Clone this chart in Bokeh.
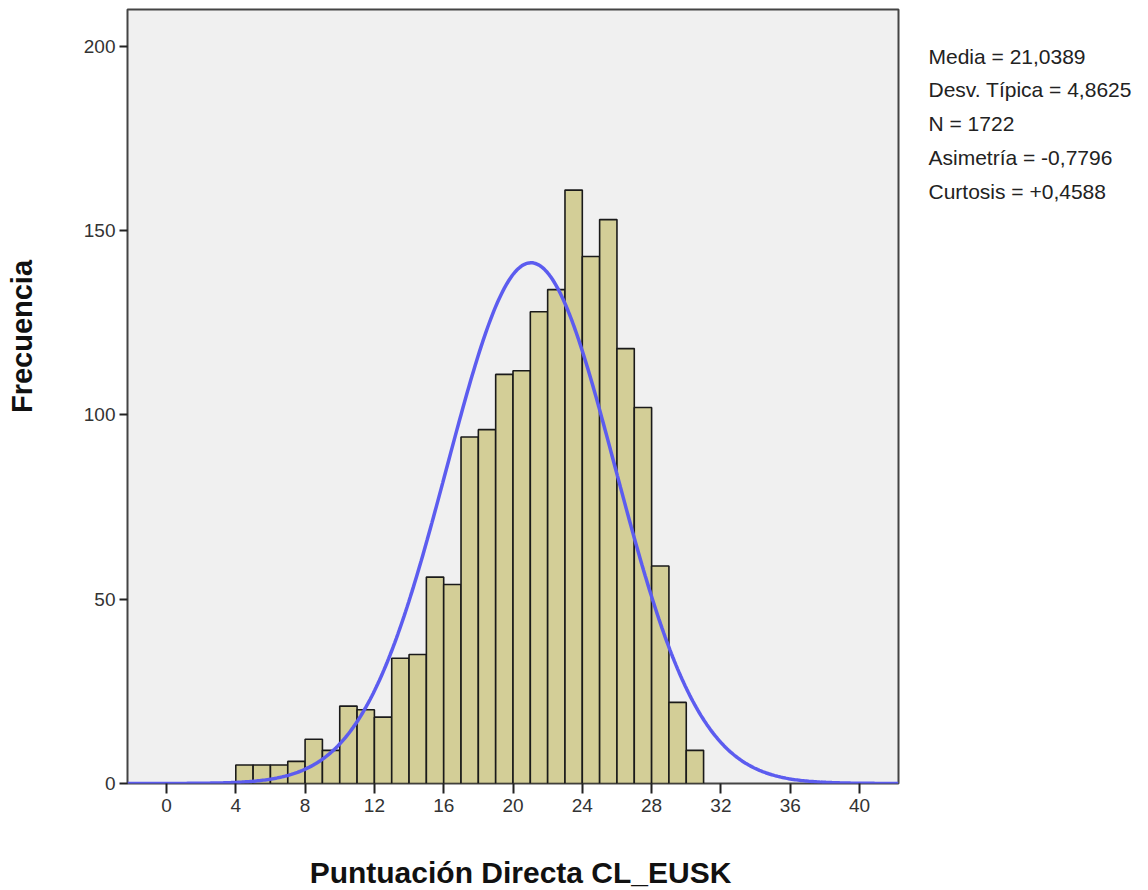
import numpy as np
from bokeh.plotting import figure
from bokeh.layouts import row, column
from bokeh.models import FixedTicker, Range1d
from bokeh.core.properties import value
from bokeh.embed import file_html
from bokeh.resources import INLINE

# ---- data ----
bin_left = list(range(4, 31))
counts = [5, 5, 5, 6, 12, 9, 21, 20, 18, 34, 35, 56, 54, 94, 96,
          111, 112, 128, 134, 161, 143, 153, 118, 102, 59, 22, 9]
mean = 21.0389
sd = 4.8625
n_total = 1722
stats_lines = ["Media = 21,0389", "Desv. Típica = 4,8625", "N = 1722",
               "Asimetría = -0,7796", "Curtosis = +0,4588"]
x_ticks = list(range(0, 41, 4))
y_ticks = [0, 50, 100, 150, 200]
x_title = "Puntuación Directa CL_EUSK"
y_title = "Frecuencia"

FONT = "Liberation Sans"
X0, X1 = -2.25, 42.25
Y0, Y1 = 0, 210
HT = 845          # height of the top row
LW = 45           # width of the left strip (y title)
PW = 860          # width of the main figure
RW = 240          # width of the right strip (statistics)
BH = 43           # height of the bottom strip (x title)


def blank(width, height):
    f = figure(width=width, height=height, output_backend="svg", toolbar_location=None,
               x_range=Range1d(0, width), y_range=Range1d(0, height),
               min_border=0, min_border_left=0, min_border_right=0,
               min_border_top=0, min_border_bottom=0)
    f.axis.visible = False
    f.grid.visible = False
    f.outline_line_color = None
    f.background_fill_color = "white"
    f.border_fill_color = "white"
    return f


# ---- main histogram ----
p = figure(width=PW, height=HT, output_backend="svg", toolbar_location=None,
           x_range=Range1d(X0, X1), y_range=Range1d(Y0, Y1),
           min_border_left=82, min_border_top=9, min_border_right=7,
           min_border_bottom=62)
p.background_fill_color = "#F0F0F0"
p.border_fill_color = "white"
p.outline_line_color = "#444444"
p.outline_line_width = 2
p.xgrid.visible = False
p.ygrid.visible = False

left = np.array(bin_left, dtype=float)
p.quad(left=left, right=left + 1, bottom=0, top=counts,
       fill_color="#D3CE97", line_color="#1a1a1a", line_width=1.6)

xs = np.linspace(X0, X1, 500)
ys = n_total * 1.0 * np.exp(-0.5 * ((xs - mean) / sd) ** 2) / (sd * np.sqrt(2 * np.pi))
p.line(xs, ys, line_color="#5C5CEF", line_width=3.5)

for ax in (p.xaxis[0], p.yaxis[0]):
    ax.axis_line_color = None
    ax.minor_tick_line_color = None
    ax.major_tick_line_color = "#222222"
    ax.major_tick_line_width = 2
    ax.major_tick_in = 0
    ax.major_label_text_font = FONT
    ax.major_label_text_font_size = "19px"
    ax.major_label_text_color = "#333333"
p.xaxis.ticker = FixedTicker(ticks=x_ticks)
p.yaxis.ticker = FixedTicker(ticks=y_ticks)
p.xaxis.major_tick_out = 10
p.yaxis.major_tick_out = 8
p.xaxis.major_label_standoff = 5
p.yaxis.major_label_standoff = 4

# ---- y title strip ----
lf = blank(LW, HT)
lf.text(x=[21], y=[HT - 357], text=[y_title], angle=np.pi / 2,
        text_font=value(FONT), text_font_style="bold", text_font_size="29px",
        text_align="center", text_baseline="middle", text_color="#111111")

# ---- statistics strip ----
rf = blank(RW, HT)
rf.text(x=[23] * len(stats_lines),
        y=[HT - (51 + 36.8 * i) for i in range(len(stats_lines))],
        text=stats_lines, text_font=value(FONT), text_font_size="21px",
        text_align="left", text_baseline="middle", text_color="#222222")

# ---- x title strip ----
bf = blank(LW + PW + RW, BH)
bf.text(x=[520], y=[BH - 27], text=[x_title],
        text_font=value(FONT), text_font_style="bold", text_font_size="30px",
        text_align="center", text_baseline="middle", text_color="#111111")

layout = column(row(lf, p, rf), bf)
open("out.html", "w").write(file_html(layout, INLINE))
